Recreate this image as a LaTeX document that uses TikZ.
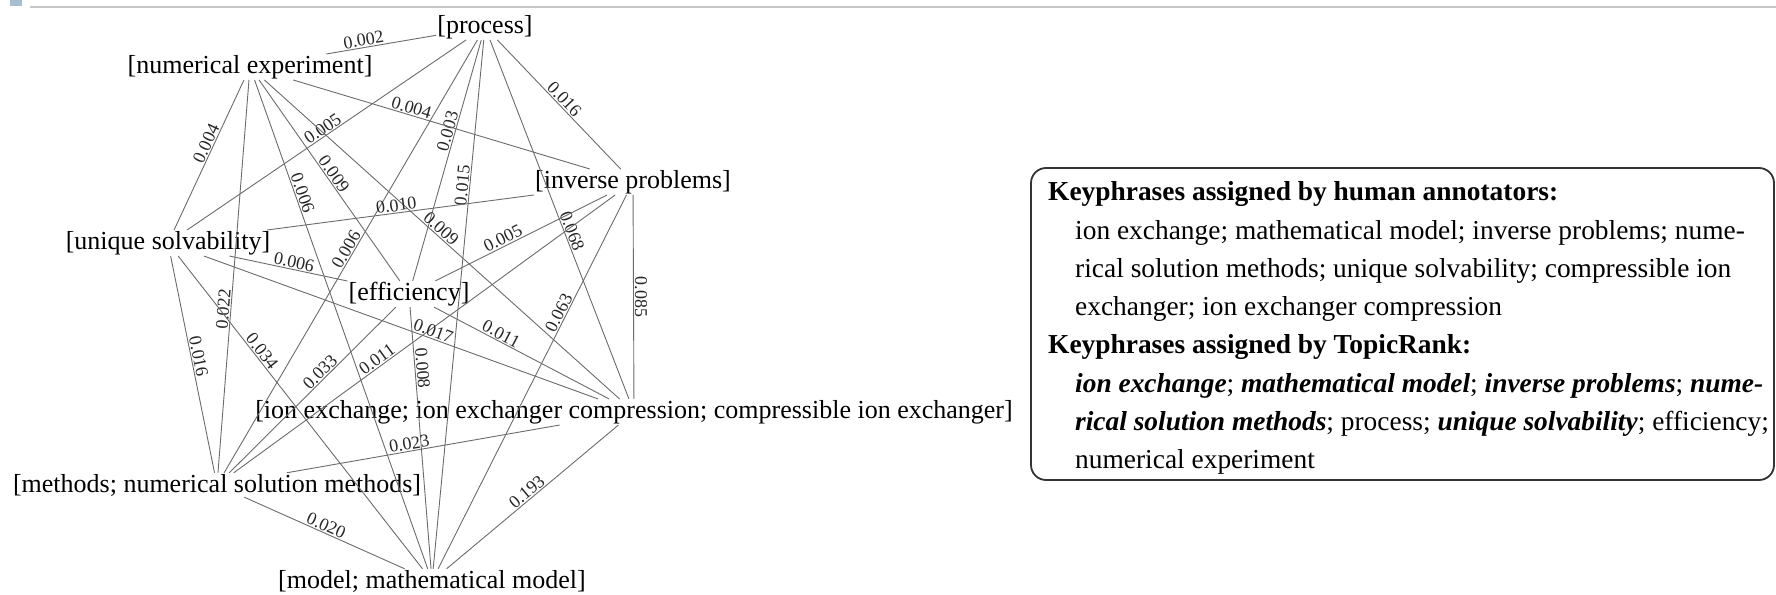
\documentclass[tikz,border=0pt]{standalone}
\usepackage{fontspec}
\setmainfont{Liberation Serif}
\definecolor{iconblue}{RGB}{165,190,208}
\newcommand\kedge[4]{%
  \draw[conn] (#1) -- (#2);
  \path (#1.center) -- node[wt,pos=#3]{#4} (#2.center);}
\begin{document}
\begin{tikzpicture}[x=1pt,y=-1pt,
  kw/.style={inner sep=1pt, font=\fontsize{26}{30}\selectfont},
  wt/.style={sloped, above, inner sep=1.2pt, font=\fontsize{18}{20}\selectfont, text=black!85},
  conn/.style={draw=black!58, line width=0.9pt},
  boxline/.style={anchor=base west, inner sep=0pt, font=\fontsize{27.4}{38}\selectfont}]
\useasboundingbox (0,0) rectangle (1776,594);
% top decoration
\fill[iconblue] (10,0) rectangle (22,6);
\draw[black!22, line width=2pt] (30,7) -- (1776,7);
% nodes
\node[kw] (p) at (485,27) {[process]};
\node[kw] (n) at (250,67) {[numerical experiment]};
\node[kw] (i) at (633,182) {[inverse problems]};
\node[kw] (u) at (168,243) {[unique solvability]};
\node[kw] (e) at (409,294) {[efficiency]};
\node[kw] (x) at (634,412) {[ion exchange; ion exchanger compression; compressible ion exchanger]};
\node[kw] (m) at (217,485) {[methods; numerical solution methods]};
\node[kw] (d) at (432,581) {[model; mathematical model]};
% edges
\kedge{p}{n}{0.511}{0.002}
\kedge{p}{i}{0.50}{0.016}
\kedge{p}{u}{0.499}{0.005}
\kedge{p}{e}{0.398}{0.003}
\kedge{p}{x}{0.537}{0.068}
\kedge{p}{m}{0.494}{0.006}
\kedge{p}{d}{0.287}{0.015}
\kedge{n}{i}{0.416}{0.004}
\kedge{n}{u}{0.453}{0.004}
\kedge{n}{e}{0.49}{0.009}
\kedge{n}{x}{0.485}{0.009}
\kedge{n}{m}{0.581}{0.022}
\kedge{n}{d}{0.25}{0.006}
\kedge{i}{u}{0.507}{0.010}
\kedge{i}{e}{0.566}{0.005}
\kedge{i}{x}{0.5}{0.085}
\kedge{i}{m}{0.605}{0.011}
\kedge{i}{d}{0.336}{0.063}
\kedge{u}{e}{0.517}{0.006}
\kedge{u}{x}{0.564}{0.017}
\kedge{u}{m}{0.475}{0.016}
\kedge{u}{d}{0.334}{0.034}
\kedge{e}{x}{0.394}{0.011}
\kedge{e}{m}{0.436}{0.033}
\kedge{e}{d}{0.261}{0.008}
\kedge{x}{m}{0.536}{0.023}
\kedge{x}{d}{0.507}{0.193}
\kedge{m}{d}{0.494}{0.020}
% keyphrase box
\draw[rounded corners=15pt, line width=1.8pt, draw=black!80] (1031,168) rectangle (1774,480);
\node[boxline] (h1) at (1048,200) {\textbf{Keyphrases assigned by human annotators:}};
\node[boxline] (l2) at (1075,239) {ion exchange; mathematical model; inverse problems; nume-};
\node[boxline] (l3) at (1075,277) {rical solution methods; unique solvability; compressible ion};
\node[boxline] (l4) at (1075,315) {exchanger; ion exchanger compression};
\node[boxline] (h2) at (1048,353) {\textbf{Keyphrases assigned by TopicRank:}};
\node[boxline] (l6) at (1075,392) {\textbf{\textit{ion exchange}}; \textbf{\textit{mathematical model}}; \textbf{\textit{inverse problems}}; \textbf{\textit{nume-}}};
\node[boxline] (l7) at (1075,430) {\textbf{\textit{rical solution methods}}; process; \textbf{\textit{unique solvability}}; efficiency;};
\node[boxline] (l8) at (1075,468) {numerical experiment};
\end{tikzpicture}
\end{document}
